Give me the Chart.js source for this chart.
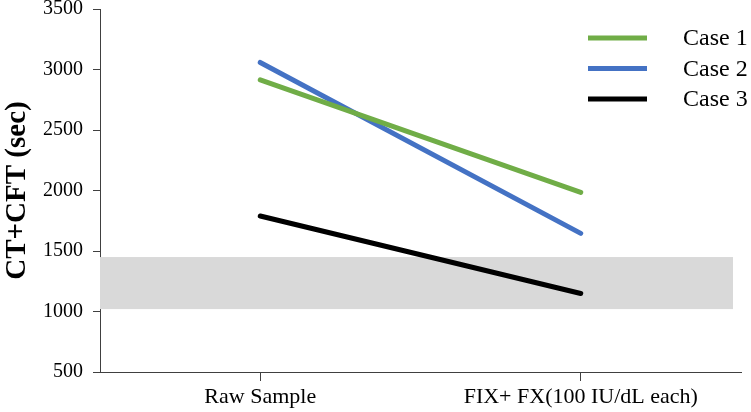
<!DOCTYPE html>
<html>
<head>
<meta charset="utf-8">
<script src="https://cdn.jsdelivr.net/npm/chart.js@4/dist/chart.umd.min.js"></script>
<style>
  html, body { margin: 0; padding: 0; background: #fff; }
  #wrap { width: 751px; height: 412px; }
</style>
</head>
<body>
<div id="wrap"><canvas id="grafico"></canvas></div>
<script>
// Dados
const categorias = ["Raw Sample", "FIX+ FX(100 IU/dL each)"];
const nomesCasos = ["Case 1", "Case 2", "Case 3"];
const caso1 = [2915, 1985];
const caso2 = [3058, 1646];
const caso3 = [1789, 1149];
const faixaNormal = [1020, 1450];
const ticksY = [500, 1000, 1500, 2000, 2500, 3000, 3500];

const cores = ["#70ad47", "#4472c4", "#000000"];
const fonte = "'Liberation Serif', 'Times New Roman', serif";

// Faixa cinza de referência
const pluginFaixa = {
  id: "faixa",
  beforeDatasetsDraw(chart) {
    const { ctx, chartArea, scales } = chart;
    const yTop = scales.y.getPixelForValue(faixaNormal[1]);
    const yBot = scales.y.getPixelForValue(faixaNormal[0]);
    ctx.save();
    ctx.fillStyle = "#d9d9d9";
    ctx.fillRect(chartArea.left, yTop, chartArea.right - chartArea.left - 8, yBot - yTop);
    ctx.restore();
  }
};

// Legenda desenhada à mão (linhas à esquerda do texto)
const pluginLegenda = {
  id: "legendaCasos",
  afterDatasetsDraw(chart) {
    const { ctx } = chart;
    ctx.save();
    chart.data.datasets.forEach((ds, i) => {
      const y = 38 + i * 30.5;
      ctx.strokeStyle = ds.borderColor;
      ctx.lineWidth = 5;
      ctx.beginPath();
      ctx.moveTo(588, y);
      ctx.lineTo(647, y);
      ctx.stroke();
      ctx.fillStyle = "#000";
      ctx.font = "24px " + fonte;
      ctx.textBaseline = "middle";
      ctx.fillText(ds.label, 683, y + 1);
    });
    ctx.restore();
  }
};

const datasets = [caso1, caso2, caso3].map((valores, i) => ({
  label: nomesCasos[i],
  data: valores,
  borderColor: cores[i],
  backgroundColor: cores[i],
  borderWidth: 5,
  borderCapStyle: "round",
  pointRadius: 0,
  fill: false,
  tension: 0
}));

new Chart(document.getElementById("grafico").getContext("2d"), {
  type: "line",
  data: { labels: categorias, datasets },
  options: {
    responsive: true,
    maintainAspectRatio: false,
    animation: false,
    layout: { padding: { top: 9, right: 10, left: 0, bottom: 0 } },
    plugins: { legend: { display: false }, tooltip: { enabled: false } },
    scales: {
      x: {
        type: "category",
        offset: true,
        grid: { offset: false, drawOnChartArea: false, drawTicks: true, tickLength: 9, color: "#404040" },
        border: { color: "#404040", width: 1 },
        ticks: { color: "#000", font: { family: fonte, size: 22 }, padding: 3, maxRotation: 0 },
        afterFit(scale) { scale.height = 40; scale.paddingLeft = 0; scale.paddingRight = 0; }
      },
      y: {
        min: 500,
        max: 3500,
        afterBuildTicks(scale) { scale.ticks = ticksY.map(v => ({ value: v })); },
        grid: { drawOnChartArea: false, drawTicks: true, tickLength: 7, color: "#404040" },
        border: { color: "#404040", width: 1 },
        ticks: { color: "#000", font: { family: fonte, size: 20 }, padding: 10, callback: v => String(v) },
        title: { display: true, text: "CT+CFT (sec)", color: "#000", font: { family: fonte, size: 29, weight: "bold" }, padding: { top: 0, bottom: 6 } },
        afterFit(scale) { scale.width = 100; scale.paddingTop = 0; scale.paddingBottom = 0; }
      }
    }
  },
  plugins: [pluginFaixa, pluginLegenda]
});
</script>
</body>
</html>
